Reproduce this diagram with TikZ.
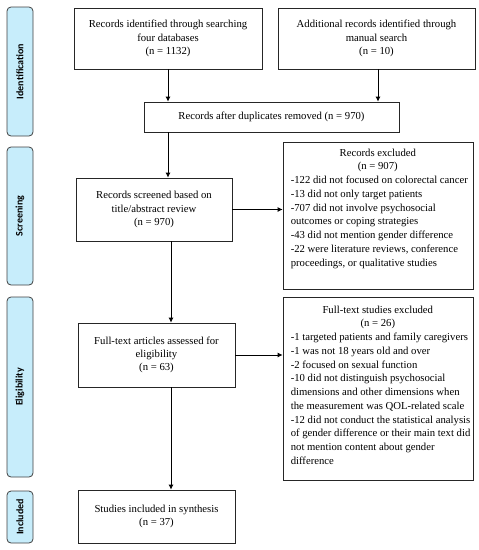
\documentclass[tikz,border=0pt]{standalone}
\usepackage{fontspec}
\usetikzlibrary{calc,arrows.meta}
\setmainfont{Liberation Serif}
\newfontfamily\sidefont{Carlito}
\newcommand{\exline}[1]{\mbox{#1}\\}
\begin{document}
\begin{tikzpicture}[x=1pt,y=-1pt,
  box/.style={draw=black!85, line width=0.8pt, fill=white, inner sep=0pt, align=center,
    font=\fontsize{10.7}{13.3}\selectfont},
  side/.style={draw=black!75, line width=0.8pt, fill=cyan!22!white, rounded corners=4pt,
    minimum width=26pt, inner sep=0pt},
  sidelab/.style={rotate=90, font=\sidefont\bfseries\fontsize{10}{11}\selectfont},
  txt/.style={inner sep=0pt, font=\fontsize{10.7}{13.75}\selectfont},
  arr/.style={-{Latex[length=5pt,width=5pt]}, line width=0.8pt}]
\useasboundingbox (0,0) rectangle (479,550);
% side boxes
\node[side, minimum height=129pt] (sid) at (20,71.5) {};
\node[sidelab] (sidl) at (sid) {Identification};
\node[side, minimum height=138pt] (sscr) at (20,216) {};
\node[sidelab] (sscrl) at (sscr) {Screening};
\node[side, minimum height=180pt] (sel) at (20,387) {};
\node[sidelab] (sell) at (sel) {Eligibility};
\node[side, minimum height=52pt] (sinc) at (20,517) {};
\node[sidelab] (sincl) at (sinc) {Included};
% main boxes
\node[box, minimum width=188pt, minimum height=61pt] (b1) at (168,38.5)
  {Records identified through searching\\four databases\\(n = 1132)};
\node[box, minimum width=197pt, minimum height=61pt] (b2) at (376.5,38.5)
  {Additional records identified through\\manual search\\(n = 10)};
\node[box, minimum width=255pt, minimum height=30pt] (dup) at (271.5,117)
  {Records after duplicates removed (n = 970)};
\node[box, minimum width=156pt, minimum height=63pt] (scr) at (154,209.5)
  {Records screened based on\\title/abstract review\\(n = 970)};
\node[box, minimum width=190pt, minimum height=147pt] (ex1) at (378,215.5) {};
\node[txt, anchor=north west] (ex1t) at ($(ex1.north west)+(8,7)$) {\parbox{174pt}{\centering Records excluded\\(n = 907)\par\raggedright
\exline{-122 did not focused on colorectal cancer}
\exline{-13 did not only target patients}
\exline{-707 did not involve psychosocial}
\exline{outcomes or coping strategies}
\exline{-43 did not mention gender difference}
\exline{-22 were literature reviews, conference}
\mbox{proceedings, or qualitative studies}\par}};
\node[box, minimum width=157pt, minimum height=64pt] (ft) at (156.5,355)
  {Full-text articles assessed for\\eligibility\\(n = 63)};
\node[box, minimum width=190pt, minimum height=183pt] (ex2) at (378,388.5) {};
\node[txt, anchor=north west] (ex2t) at ($(ex2.north west)+(8,9)$) {\parbox{174pt}{\centering Full-text studies excluded\\(n = 26)\par\raggedright
\exline{-1 targeted patients and family caregivers}
\exline{-1 was not 18 years old and over}
\exline{-2 focused on sexual function}
\exline{-10 did not distinguish psychosocial}
\exline{dimensions and other dimensions when}
\exline{the measurement was QOL-related scale}
\exline{-12 did not conduct the statistical analysis}
\exline{of gender difference or their main text did}
\exline{not mention content about gender}
\mbox{difference}\par}};
\node[box, minimum width=157pt, minimum height=53pt] (inc) at (156.5,516.5)
  {Studies included in synthesis\\(n = 37)};
% connectors
\coordinate (cx) at (171,0);
\draw[arr] (b1.south) -- (dup.north -| b1.south);
\draw[arr] (b2.south -| ex1.north) -- (dup.north -| ex1.north);
\draw[arr] (dup.south -| b1.south) -- (scr.north -| b1.south);
\draw[arr] (scr.east) -- (ex1.west |- scr.east);
\draw[arr] (scr.south -| cx) -- (ft.north -| cx);
\draw[arr] (ft.east) -- (ex2.west |- ft.east);
\draw[arr] (ft.south -| cx) -- (inc.north -| cx);
\end{tikzpicture}
\end{document}
